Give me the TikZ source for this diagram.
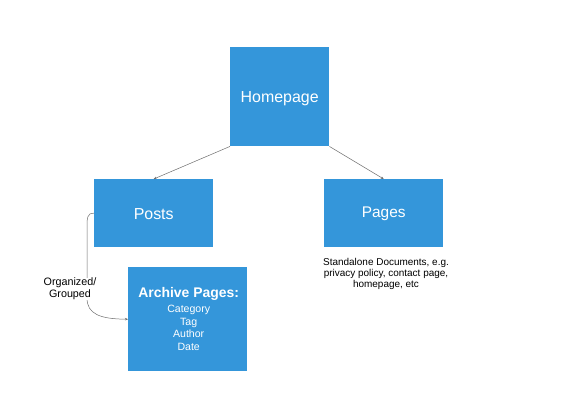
\documentclass[tikz,border=0pt]{standalone}
\usepackage{fontspec}
\setmainfont{Liberation Sans}
\usetikzlibrary{arrows.meta}
\definecolor{boxblue}{RGB}{52,150,218}
\definecolor{linegray}{RGB}{110,110,110}
\tikzset{
  bluebox/.style={draw=none, fill=boxblue, text=white, inner sep=0pt, anchor=north west},
  conn/.style={draw=linegray, line width=0.5pt, -{Stealth[length=3pt,width=2.5pt]}},
  plain/.style={text=black, align=center, inner sep=0pt}
}
\begin{document}
\begin{tikzpicture}[x=1bp,y=-1bp]
\useasboundingbox[fill=white] (0,0) rectangle (576,407);
\node[bluebox, minimum width=99bp, minimum height=99bp] (home) at (230,47) {};
\node[text=white, font=\fontsize{16}{19}\selectfont] at ([yshift=-1.5bp]home.center) {Homepage};
\node[bluebox, minimum width=119bp, minimum height=68bp] (posts) at (94,179) {};
\node[text=white, font=\fontsize{16}{19}\selectfont] at ([yshift=-1bp]posts.center) {Posts};
\node[bluebox, minimum width=119bp, minimum height=68bp] (pages) at (324,179) {};
\node[text=white, font=\fontsize{15.5}{19}\selectfont] at ([yshift=-1bp]pages.center) {Pages};
\node[bluebox, minimum width=119bp, minimum height=104bp] (archive) at (128,267) {};
\node[text=white, align=center, font=\fontsize{10.6}{12.8}\selectfont] at ([xshift=1bp]archive.center)
  {{\fontsize{14}{14}\selectfont\bfseries Archive Pages:}\\[2bp]Category\\Tag\\Author\\Date};
\node[plain, font=\fontsize{10}{11}\selectfont, anchor=north] (desc) at (386,258)
  {Standalone Documents, e.g.\\privacy policy, contact page,\\homepage, etc};
\draw[conn] (home.south west) -- (posts.north);
\draw[conn] (home.south east) -- (pages.north);
\draw[conn] (posts.west) .. controls (87,213) and (87,218) .. (87,228) -- (87,298)
  .. controls (87,314) and (100,319) .. (archive.west);
\node[plain, fill=white, inner sep=0.5bp, font=\fontsize{10.8}{11.8}\selectfont] (lbl) at (70,289)
  {Organized/\\Grouped};
\end{tikzpicture}
\end{document}
